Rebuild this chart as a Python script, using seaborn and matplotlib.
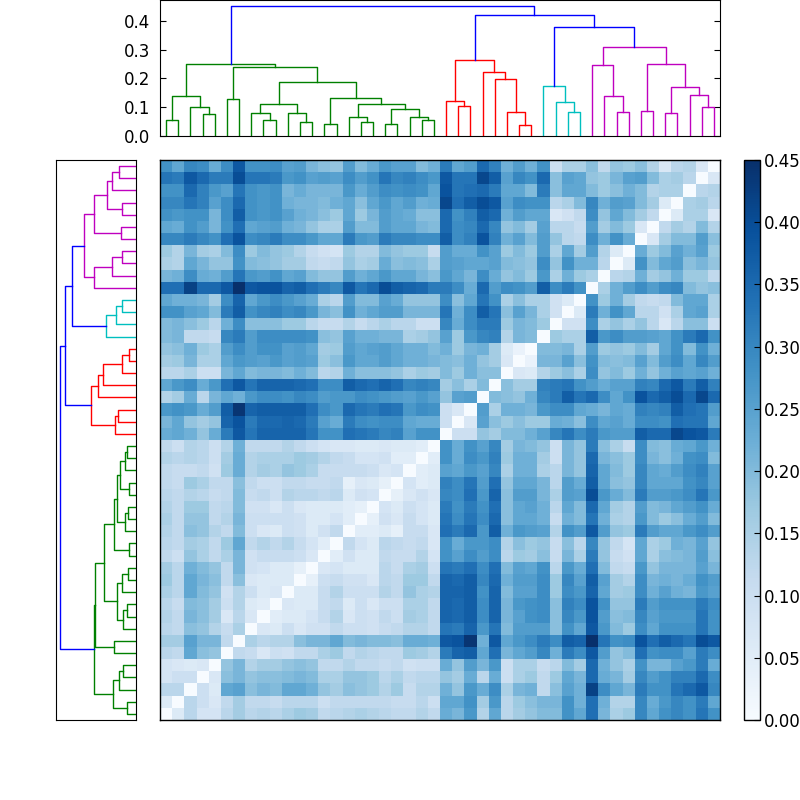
#!/usr/bin/env python3

import numpy as np
import matplotlib
matplotlib.use('Agg')
import matplotlib.pyplot as plt
import seaborn as sns

# distances are kept in hundredths, leaf 0 is the first column / bottom row
# leaves 0-22, lower triangle, row r holds columns 0..r-1
low_rows = [
    [6],
    [13, 13],
    [8, 10, 10],
    [8, 7, 6, 7],
    [13, 12, 24, 19, 18],
    [16, 16, 25, 21, 21, 12],
    [13, 12, 19, 18, 14, 11, 15],
    [14, 12, 21, 19, 16, 7, 13, 7],
    [13, 11, 20, 19, 16, 10, 14, 6, 5],
    [15, 13, 24, 20, 18, 9, 14, 10, 6, 7],
    [17, 13, 24, 21, 19, 12, 19, 7, 6, 6, 6],
    [16, 13, 22, 20, 18, 12, 21, 9, 8, 6, 6, 4],
    [12, 10, 18, 15, 12, 15, 21, 9, 11, 11, 11, 10, 7],
    [13, 12, 16, 15, 12, 17, 24, 12, 14, 12, 14, 11, 8, 5],
    [14, 12, 19, 18, 14, 12, 20, 10, 7, 6, 10, 9, 6, 9, 12],
    [15, 12, 18, 18, 12, 14, 21, 10, 10, 10, 10, 9, 6, 6, 8, 5],
    [14, 12, 17, 17, 12, 13, 20, 9, 9, 7, 10, 7, 6, 6, 6, 5, 4],
    [13, 12, 14, 13, 11, 12, 20, 11, 12, 10, 14, 13, 13, 12, 13, 6, 9, 8],
    [12, 11, 17, 15, 12, 12, 19, 12, 10, 10, 12, 12, 11, 11, 12, 4, 7, 6, 4],
    [12, 11, 11, 12, 9, 17, 23, 14, 16, 15, 18, 17, 15, 11, 11, 11, 11, 10, 7, 8],
    [14, 13, 14, 13, 10, 16, 23, 14, 15, 15, 15, 17, 16, 14, 12, 11, 8, 8, 9, 5, 5],
    [12, 10, 14, 13, 10, 14, 22, 12, 12, 12, 14, 12, 10, 8, 7, 7, 6, 6, 7, 6, 6, 5],
]

# rows 22 down to 0, columns 23..45
cross_rows = [
    [28, 23, 28, 25, 30, 16, 21, 20, 18, 10, 21, 18, 32, 19, 15, 11, 29, 20, 19, 23, 24, 27, 22],
    [28, 23, 29, 27, 31, 17, 22, 22, 16, 10, 21, 18, 35, 21, 19, 17, 29, 21, 19, 22, 28, 29, 20],
    [25, 24, 27, 25, 30, 15, 22, 22, 15, 13, 21, 18, 36, 24, 20, 17, 30, 24, 23, 26, 29, 31, 25],
    [31, 29, 33, 26, 34, 18, 24, 24, 21, 13, 26, 23, 37, 24, 19, 18, 30, 24, 24, 24, 28, 30, 25],
    [30, 29, 34, 27, 36, 19, 26, 26, 21, 15, 26, 25, 40, 27, 23, 20, 32, 26, 26, 27, 29, 33, 27],
    [32, 28, 32, 28, 34, 19, 24, 25, 22, 13, 24, 20, 35, 24, 16, 14, 26, 20, 21, 24, 26, 28, 23],
    [33, 29, 33, 29, 35, 19, 24, 24, 22, 11, 22, 20, 33, 22, 15, 14, 27, 20, 17, 19, 23, 26, 20],
    [34, 32, 35, 27, 37, 22, 27, 26, 25, 14, 28, 26, 38, 26, 18, 17, 32, 26, 24, 24, 27, 29, 26],
    [28, 23, 27, 27, 29, 14, 19, 17, 18, 11, 19, 13, 30, 18, 12, 8, 24, 15, 17, 22, 21, 25, 18],
    [28, 25, 29, 26, 29, 13, 17, 16, 19, 11, 21, 15, 32, 18, 11, 9, 24, 15, 19, 20, 21, 26, 19],
    [33, 32, 34, 29, 34, 20, 25, 24, 28, 13, 27, 23, 34, 20, 12, 11, 27, 18, 21, 21, 21, 25, 21],
    [36, 35, 37, 30, 35, 22, 26, 26, 29, 17, 30, 25, 37, 25, 16, 14, 29, 21, 22, 21, 23, 28, 26],
    [36, 36, 37, 28, 36, 20, 25, 25, 29, 17, 29, 27, 36, 24, 16, 17, 29, 22, 25, 22, 21, 27, 25],
    [36, 35, 37, 29, 36, 21, 27, 28, 29, 19, 31, 29, 39, 28, 18, 18, 32, 26, 28, 28, 28, 32, 29],
    [36, 35, 37, 29, 36, 21, 25, 28, 29, 19, 30, 27, 39, 26, 19, 20, 30, 25, 27, 27, 27, 33, 28],
    [33, 32, 36, 27, 33, 20, 26, 26, 26, 19, 28, 24, 38, 27, 20, 17, 29, 24, 28, 28, 28, 33, 28],
    [38, 39, 44, 22, 38, 24, 27, 29, 32, 29, 37, 36, 45, 33, 28, 29, 39, 34, 37, 35, 33, 40, 38],
    [32, 36, 37, 24, 34, 21, 24, 26, 30, 22, 32, 29, 38, 26, 18, 20, 34, 28, 29, 29, 25, 32, 29],
    [23, 18, 26, 21, 27, 10, 15, 15, 11, 13, 20, 16, 35, 22, 18, 15, 28, 21, 21, 25, 27, 32, 23],
    [18, 16, 23, 13, 23, 10, 15, 17, 12, 17, 24, 21, 35, 23, 21, 16, 30, 26, 28, 31, 31, 35, 29],
    [22, 18, 27, 23, 29, 15, 21, 22, 12, 19, 25, 22, 42, 29, 24, 21, 32, 28, 28, 33, 35, 38, 30],
    [24, 24, 28, 16, 27, 13, 17, 19, 21, 21, 28, 22, 34, 22, 14, 14, 30, 23, 27, 30, 28, 32, 24],
    [23, 21, 27, 14, 24, 13, 16, 18, 20, 20, 28, 24, 34, 21, 15, 17, 30, 24, 28, 30, 28, 33, 28],
]

# leaves 23-45, rows 24..45, columns 23..r-1
high_rows = [
    [10],
    [10, 7],
    [18, 25, 26],
    [16, 19, 15, 20],
    [20, 17, 22, 19, 19],
    [20, 19, 22, 18, 16, 7],
    [22, 17, 21, 22, 16, 6, 3],
    [25, 17, 27, 30, 31, 14, 21, 20],
    [30, 23, 29, 32, 32, 17, 21, 20, 17],
    [33, 22, 29, 37, 33, 19, 25, 21, 15, 9],
    [29, 19, 24, 33, 28, 15, 19, 15, 15, 9, 6],
    [32, 29, 23, 35, 26, 29, 28, 26, 37, 29, 32, 28],
    [27, 24, 21, 29, 23, 18, 20, 17, 27, 15, 22, 17, 15],
    [26, 25, 24, 24, 25, 20, 19, 18, 29, 18, 28, 22, 22, 13],
    [26, 23, 23, 28, 25, 17, 20, 17, 26, 15, 24, 16, 26, 14, 6],
    [37, 29, 31, 39, 31, 22, 25, 20, 26, 18, 13, 12, 29, 22, 28, 23],
    [35, 29, 30, 35, 30, 18, 20, 16, 25, 13, 13, 11, 26, 16, 20, 17, 7],
    [35, 28, 31, 37, 35, 22, 26, 24, 24, 7, 9, 12, 29, 18, 24, 20, 16, 12],
    [41, 34, 37, 40, 38, 25, 29, 28, 28, 13, 15, 20, 30, 22, 26, 25, 20, 16, 6],
    [39, 33, 34, 35, 32, 24, 24, 20, 32, 19, 24, 24, 20, 17, 19, 22, 20, 14, 15, 15],
    [38, 33, 33, 41, 37, 25, 30, 28, 35, 19, 25, 24, 18, 17, 21, 25, 26, 20, 15, 16, 13],
    [32, 24, 26, 35, 31, 22, 26, 22, 28, 10, 15, 15, 19, 12, 18, 17, 19, 14, 7, 13, 14, 7],
]

# merges, numbered from 46 on like a linkage table
link_left = [0, 3, 2, 46, 5, 8, 7, 11, 10, 52, 13, 16, 15, 18, 21, 20, 59, 58, 56, 55, 50, 49,
             24, 23, 29, 28, 27, 26, 69, 33, 32, 31, 37, 36, 35, 39, 41, 44, 43, 82, 81, 80, 77, 74, 67]
link_right = [1, 4, 47, 48, 6, 9, 51, 12, 53, 54, 14, 17, 57, 19, 22, 60, 61, 62, 63, 64, 65, 66,
              25, 68, 30, 70, 71, 72, 73, 34, 75, 76, 38, 78, 79, 40, 42, 45, 83, 84, 85, 86, 87, 88, 89]
link_height = [.056, .077, .10, .138, .13, .0545, .079, .049, .08, .11, .042, .0475, .067, .04, .0545,
               .065, .093, .1125, .132, .188, .241, .25,
               .1055, .122, .039, .083, .198, .224, .264,
               .083, .119, .175,
               .085, .14, .246, .087, .08, .10, .144, .169, .25, .308,
               .379, .42, .452]
link_color = ['g'] * 22 + ['r'] * 7 + ['c'] * 3 + ['m'] * 10 + ['b'] * 3

cbar_ticks = [0.0, 0.05, 0.10, 0.15, 0.20, 0.25, 0.30, 0.35, 0.40, 0.45]
dendro_ticks = [0.0, 0.1, 0.2, 0.3, 0.4]

COLORS = {'g': (0, .5, 0), 'r': (1, 0, 0), 'c': (0, .75, .75), 'm': (.75, 0, .75), 'b': (0, 0, 1)}
N = 46
MAX_H = 0.473


def build_matrix():
    ''' Put the three blocks together into the symmetric matrix '''
    m = np.zeros((N, N))
    for r, row in enumerate(low_rows):
        m[r + 1, :r + 1] = row
    for r, row in enumerate(high_rows):
        m[r + 24, 23:r + 24] = row
    m = m + m.T
    for k, row in enumerate(cross_rows):
        m[22 - k, 23:] = row
        m[23:, 22 - k] = row
    return m / 100.0


def draw_dendrogram(ax, horizontal=True):
    ''' Walk the merges and draw each one as a bracket '''
    pos = {i: i + 0.5 for i in range(N)}
    height = {i: 0.0 for i in range(N)}
    for k in range(len(link_left)):
        a, b = link_left[k], link_right[k]
        h = link_height[k]
        xs = [pos[a], pos[a], pos[b], pos[b]]
        ys = [height[a], h, h, height[b]]
        if horizontal:
            ax.plot(xs, ys, color=COLORS[link_color[k]], lw=1)
        else:
            ax.plot(ys, xs, color=COLORS[link_color[k]], lw=1)
        pos[46 + k] = (pos[a] + pos[b]) / 2
        height[46 + k] = h


def place(fig, left, top, right, bottom):
    ''' Axes from pixel edges, y counted from the top of the figure '''
    return fig.add_axes([left / 800, 1 - bottom / 800, (right - left) / 800, (bottom - top) / 800])


def main():
    plt.rcParams['font.family'] = 'DejaVu Sans'
    plt.rcParams['font.size'] = 12
    fig = plt.figure(figsize=(8, 8), dpi=100)

    ax_top = place(fig, 160, 0, 720, 136)
    draw_dendrogram(ax_top)
    ax_top.set_xlim(0, N)
    ax_top.set_ylim(0, MAX_H)
    ax_top.set_xticks([])
    ax_top.set_yticks(dendro_ticks)
    ax_top.tick_params(axis='y', direction='in', left=True, right=True, length=4, pad=7, labelsize=12)

    ax_left = place(fig, 56, 160, 136, 720)
    draw_dendrogram(ax_left, horizontal=False)
    ax_left.set_ylim(0, N)
    ax_left.set_xlim(MAX_H, 0)
    ax_left.set_xticks([])
    ax_left.set_yticks([])

    ax_heat = place(fig, 160, 160, 720, 720)
    ax_cbar = place(fig, 744, 160, 760, 720)
    sns.heatmap(build_matrix(), ax=ax_heat, cbar_ax=ax_cbar, cmap='Blues', vmin=0, vmax=0.45,
                xticklabels=False, yticklabels=False, cbar_kws={'ticks': cbar_ticks})
    ax_heat.invert_yaxis()
    for s in ax_heat.spines.values():
        s.set_visible(True)
        s.set_linewidth(1)

    ax_cbar.set_yticklabels(['%.2f' % t for t in cbar_ticks])
    ax_cbar.tick_params(axis='y', direction='in', length=4, pad=2.5, labelsize=12, right=True)
    cb = ax_heat.collections[0].colorbar
    cb.outline.set_visible(True)
    cb.outline.set_linewidth(1)
    cb.outline.set_edgecolor('black')

    fig.savefig('out.png', dpi=100)


if __name__ == "__main__":
    main()
